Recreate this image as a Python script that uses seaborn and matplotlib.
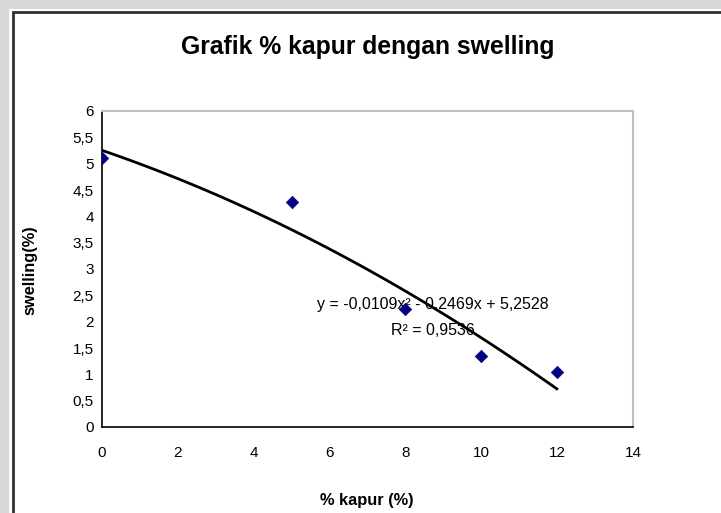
import numpy as np
import pandas as pd
import matplotlib
matplotlib.use("Agg")
import matplotlib.pyplot as plt
import seaborn as sns
from matplotlib.patches import Rectangle

# Data
kapur = [0, 5, 8, 10, 12]
swelling = [5.1, 4.27, 2.25, 1.35, 1.05]
trend_coef = [-0.0109, -0.2469, 5.2528]  # from the chart's trendline label
r2_text = "R² = 0,9536"
eq_text = "y = -0,0109x² - 0,2469x + 5,2528"
title = "Grafik % kapur dengan swelling"
xlabel = "% kapur (%)"
ylabel = "swelling(%)"
xticks = [0, 2, 4, 6, 8, 10, 12, 14]
yticks = [0, 0.5, 1, 1.5, 2, 2.5, 3, 3.5, 4, 4.5, 5, 5.5, 6]

sns.set_style("white")
plt.rcParams['font.family'] = ['Liberation Sans', 'DejaVu Sans']
plt.rcParams['text.color'] = 'black'

W, H = 721, 513
fig = plt.figure(figsize=(W / 100, H / 100), dpi=100)
fig.patch.set_facecolor("#d8d8d8")

# white chart area with black border
fig.patches.append(Rectangle((9 / W, 0), 1, 1 - 9 / H, transform=fig.transFigure,
                             facecolor="white", edgecolor="none", zorder=0))
fig.patches.append(Rectangle((12.5 / W, -0.1), 2, 1 - 12.5 / H + 0.1, transform=fig.transFigure,
                             facecolor="white", edgecolor="#303030", linewidth=2, zorder=0.5))

# axes: x 0 -> px 102, 14 -> px 633 ; y 0 -> px 427, 6 -> px 111
left, right, top, bottom = 102, 633, 111, 427
ax = fig.add_axes([left / W, 1 - bottom / H, (right - left) / W, (bottom - top) / H])
ax.set_zorder(3)
ax.set_facecolor("white")

df = pd.DataFrame({"kapur": kapur, "swelling": swelling})
xs = np.linspace(min(kapur), max(kapur), 100)
ys = np.polyval(trend_coef, xs)
sns.lineplot(x=xs, y=ys, ax=ax, color="black", linewidth=2, zorder=2)
sns.scatterplot(data=df, x="kapur", y="swelling", ax=ax, marker="D", s=40,
                color="#000080", edgecolor="#000080", zorder=3)

ax.set_xlim(0, 14)
ax.set_ylim(0, 6)
ax.set_xticks(xticks)
ax.set_yticks(yticks)
ax.set_xticklabels([str(t) for t in xticks])
ax.set_yticklabels([("%g" % t).replace(".", ",") for t in yticks])
ax.tick_params(axis="both", direction="out", length=5, width=1, colors="black",
               labelsize=11, labelcolor="black")
ax.tick_params(axis="x", pad=9)
ax.tick_params(axis="y", pad=1)
ax.set_xlabel("")
ax.set_ylabel("")

for side in ["left", "bottom"]:
    ax.spines[side].set_color("black")
    ax.spines[side].set_linewidth(1.2)
for side in ["top", "right"]:
    ax.spines[side].set_color("#c0c0c0")
    ax.spines[side].set_linewidth(1.5)

ax.text(8.73, 2.32, eq_text, fontsize=11.5, ha="center", va="center", color="black", zorder=1)
ax.text(8.73, 1.84, r2_text, fontsize=11.5, ha="center", va="center", color="black", zorder=1)

fig.text(368 / W, 1 - 47 / H, title, fontsize=17.8, fontweight="bold", ha="center", va="center",
         color="black", zorder=5)
fig.text(367 / W, 1 - 500 / H, xlabel, fontsize=11.8, fontweight="bold", ha="center", va="center",
         color="black", zorder=5)
fig.text(30 / W, 1 - 270 / H, ylabel, fontsize=11.8, fontweight="bold", ha="center", va="center",
         rotation=90, color="black", zorder=5)

fig.savefig("out.png", dpi=100, facecolor=fig.get_facecolor())
